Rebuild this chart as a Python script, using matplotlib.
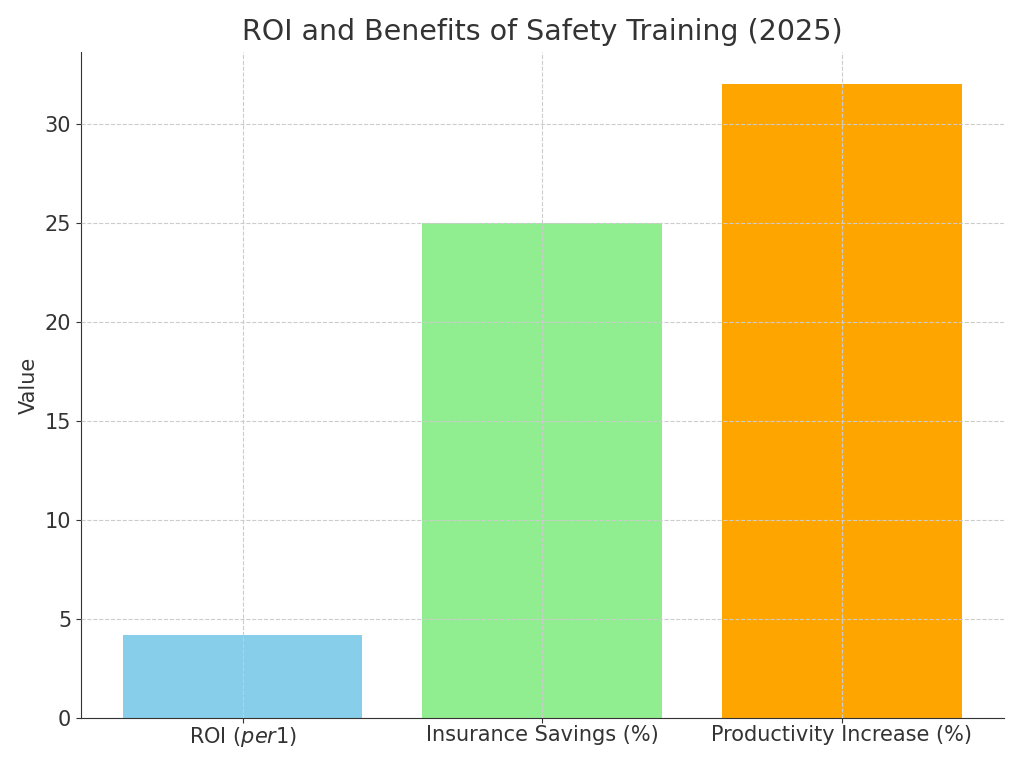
import matplotlib.pyplot as plt

categories = ['ROI ($ per $1)', 'Insurance Savings (%)', 'Productivity Increase (%)']
values = [4.2, 25, 32]
colors = ['skyblue', 'lightgreen', 'orange']

plt.rcParams['text.color'] = '#333333'
plt.rcParams['axes.labelcolor'] = '#333333'
plt.rcParams['xtick.color'] = '#333333'
plt.rcParams['ytick.color'] = '#333333'

fig, ax = plt.subplots(figsize=(10.24, 7.68), dpi=100)
ax.bar(categories, values, color=colors, width=0.8)
ax.set_title('ROI and Benefits of Safety Training (2025)', fontsize=20.5, pad=9)
ax.set_ylabel('Value', fontsize=15)
ax.tick_params(labelsize=15)
ax.tick_params(axis='x', pad=1.5)
ax.grid(True, linestyle='--', color='#cccccc', linewidth=0.8)
ax.set_axisbelow(False)
for s in ['top', 'right']:
    ax.spines[s].set_visible(False)
ax.spines['left'].set_color('#333333')
ax.spines['bottom'].set_color('#333333')

plt.subplots_adjust(left=0.079, right=0.98, top=0.932, bottom=0.065)
plt.savefig('out.png')
